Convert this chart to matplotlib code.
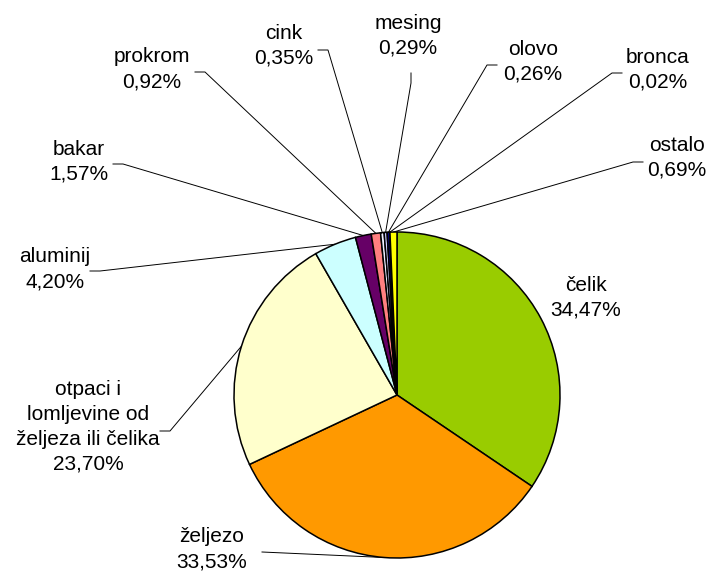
import numpy as np
import matplotlib
matplotlib.use("Agg")
import matplotlib.pyplot as plt

plt.rcParams['font.family'] = ['Liberation Sans', 'DejaVu Sans']

# podaci
kategorije = ['čelik', 'željezo', 'otpaci i\nlomljevine od\nželjeza ili čelika', 'aluminij',
              'bakar', 'prokrom', 'cink', 'mesing', 'olovo', 'bronca', 'ostalo']
postoci = [34.47, 33.53, 23.70, 4.20, 1.57, 0.92, 0.35, 0.29, 0.26, 0.02, 0.69]
boje = ['#99CC00', '#FF9900', '#FFFFCC', '#CCFFFF', '#660066', '#FF8080',
        '#EEEEFF', '#CCCCFF', '#000080', '#FF00FF', '#FFFF00']

# raspored oznaka (pikseli, y odozgo): sredina teksta i kraj vodilice
poz_teksta = [(586, 298), (212, 549), (88, 427), (55, 269), (79, 162), (152, 69),
              (284, 46), (408, 36), (533, 62), (658, 70), (677, 158)]
vodilice = [None, [(262, 552)], [(160, 431), (170, 431)], [(90, 271), (100, 271)],
            [(113, 164), (123, 164)], [(195, 72), (205, 72)], [(318, 50), (328, 50)],
            [(411, 73), (411, 83)], [(497, 65), (487, 65)], [(622, 73), (612, 73)],
            [(643, 162), (633, 162)]]

W, H = 707, 572
cx, cy, r = 397, H - 395, 163

fig = plt.figure(figsize=(W / 100, H / 100), dpi=100)
ax = fig.add_axes([0, 0, 1, 1])

klinovi, _ = ax.pie(postoci, colors=boje, startangle=90, counterclock=False,
                    center=(cx, cy), radius=r,
                    wedgeprops=dict(edgecolor='black', linewidth=1.1))

for klin, naziv, p, (tx, ty), vod in zip(klinovi, kategorije, postoci, poz_teksta, vodilice):
    tekst = naziv + '\n' + f'{p:.2f}%'.replace('.', ',')
    ax.text(tx, H - ty, tekst, ha='center', va='center', fontsize=15,
            linespacing=1.4, color='black')
    if vod is None:
        continue
    kut = np.deg2rad((klin.theta1 + klin.theta2) / 2)
    rub = (cx + r * np.cos(kut), cy + r * np.sin(kut))
    xs = [x for x, _ in vod] + [rub[0]]
    ys = [H - y for _, y in vod] + [rub[1]]
    ax.plot(xs, ys, color='black', linewidth=0.7, zorder=0)

ax.set_xlim(0, W)
ax.set_ylim(0, H)
ax.set_aspect('equal')
ax.axis('off')

fig.savefig('out.png', dpi=100)
